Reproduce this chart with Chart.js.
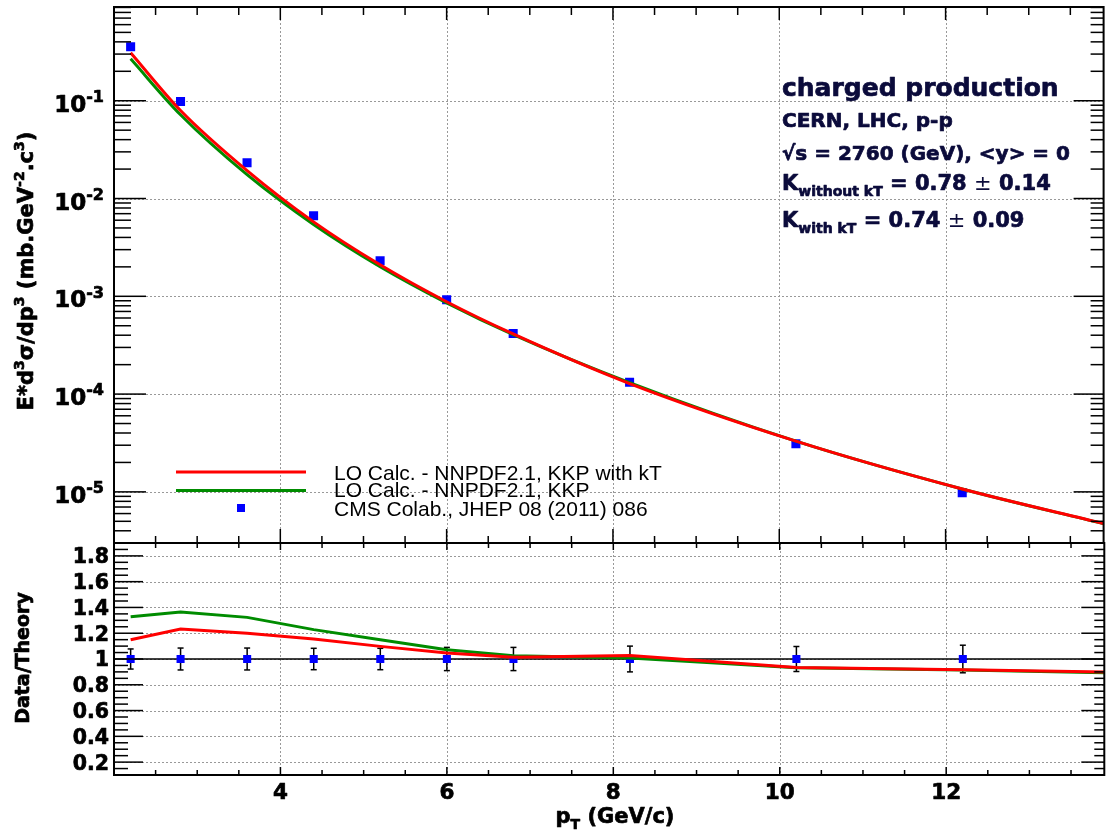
<!DOCTYPE html>
<html>
<head>
<meta charset="utf-8">
<script src="https://cdn.jsdelivr.net/npm/chart.js@4.4.1/dist/chart.umd.min.js"></script>
<style>
  body { margin: 0; background: #fff; }
  #wrap { position: relative; width: 1110px; height: 834px; }
  canvas { position: absolute; left: 0; top: 0; }
</style>
</head>
<body>
<div id="wrap">
  <canvas id="spectrum" width="1110" height="834"></canvas>
  <canvas id="ratio" width="1110" height="834"></canvas>
</div>
<script>
// CMS data points
const ptData = [2.2, 2.8, 3.6, 4.4, 5.2, 6.0, 6.8, 8.2, 10.2, 12.2]
const cmsData = [0.356, 0.098, 0.0232, 0.00667, 0.00231, 9.2e-4, 4.17e-4, 1.32e-4, 3.1e-5, 9.8e-6]
const ratioData = [1, 1, 1, 1, 1, 1, 1, 1, 1, 1]
const ratioErr = [0.078, 0.085, 0.085, 0.083, 0.083, 0.09, 0.09, 0.1, 0.097, 0.107]

// LO calculations
const ptTheory = [2.2, 2.8, 3.6, 4.4, 5.2, 6.0, 6.8, 8.2, 10.2, 12.2, 13.9]
const loWithKT = [0.31, 0.0795, 0.0193, 0.00577, 0.0021, 8.8e-4, 4.12e-4, 1.28e-4, 3.3e-5, 1.07e-5, 4.75e-6]
const loNoKT = [0.268, 0.0718, 0.01754, 0.00543, 0.00201, 8.58e-4, 4.06e-4, 1.31e-4, 3.3e-5, 1.07e-5, 4.72e-6]
const ratioWithKT = [1.15, 1.233, 1.2, 1.155, 1.098, 1.047, 1.013, 1.028, 0.935, 0.917, 0.899]
const ratioNoKT = [1.328, 1.365, 1.323, 1.228, 1.15, 1.072, 1.026, 1.008, 0.932, 0.914, 0.894]

// axes
const X_MIN = 2.0, X_MAX = 13.9
const xLabels = [4, 6, 8, 10, 12]
const Y_MIN = 3.0e-6, Y_MAX = 0.909
const decades = [-5, -4, -3, -2, -1]
const R_MIN = 0.1, R_MAX = 1.9
const ratioLabels = [0.2, 0.4, 0.6, 0.8, 1, 1.2, 1.4, 1.6, 1.8]

const RED = '#ff0000', GREEN = '#008c00', BLUE = '#0000ff', NAVY = '#0b0b3b'
const BOLD = '"DejaVu Sans", sans-serif', REG = '"Liberation Sans", Arial, sans-serif'

function rich(ctx, parts, x, y, size, o = {}) {
  const fam = o.family || BOLD, weight = o.weight || 'bold'
  const fontOf = m => `${m === 'reg' ? 'normal' : weight} ${m === 'sup' || m === 'sub' ? Math.round(size * 0.68) : size}px ${fam}`
  ctx.save()
  ctx.translate(x, y)
  if (o.rotate) ctx.rotate(o.rotate)
  ctx.fillStyle = ctx.strokeStyle = o.color || '#000'
  ctx.lineWidth = 0.7
  ctx.lineJoin = 'round'
  ctx.textBaseline = 'alphabetic'
  ctx.textAlign = 'left'
  let w = 0
  for (const [t, m] of parts) { ctx.font = fontOf(m); w += ctx.measureText(t).width }
  let cx = o.align === 'right' ? -w : o.align === 'center' ? -w / 2 : 0
  for (const [t, m] of parts) {
    ctx.font = fontOf(m)
    const dy = m === 'sup' ? -size * 0.42 : m === 'sub' ? size * 0.3 : 0
    ctx.fillText(t, cx, dy)
    // thicken bold strokes a little, ROOT's bold is heavier
    if (weight === 'bold' && m !== 'reg') ctx.strokeText(t, cx, dy)
    cx += ctx.measureText(t).width
  }
  ctx.restore()
}

function seg(ctx, x1, y1, x2, y2) {
  ctx.beginPath(); ctx.moveTo(x1, y1); ctx.lineTo(x2, y2); ctx.stroke()
}

// y tick lists: {v, major}
const logTicks = () => {
  const out = []
  for (let e = -6; e <= 0; e++) for (let m = 1; m <= 9; m++) {
    const v = m * Math.pow(10, e)
    if (v > Y_MIN && v < Y_MAX) out.push({v, major: m === 1})
  }
  return out
}
const ratioTicks = () => {
  const out = []
  for (let k = 3; k <= 37; k++) out.push({v: k * 0.05, major: k % 4 === 0})
  return out
}

// ROOT-like frame: dotted grid, inward ticks on all sides
const rootFrame = {
  id: 'rootFrame',
  beforeDatasetsDraw(chart, args, o) {
    const {ctx, chartArea: a, scales: {x, y}} = chart
    ctx.save()
    ctx.strokeStyle = '#999'
    ctx.lineWidth = 1
    ctx.setLineDash([2, 2])
    xLabels.forEach(v => { const px = Math.round(x.getPixelForValue(v)) + 0.5; seg(ctx, px, a.top, px, a.bottom) })
    o.gridY.forEach(v => { const py = Math.round(y.getPixelForValue(v)) + 0.5; seg(ctx, a.left, py, a.right, py) })
    ctx.restore()
  },
  afterDraw(chart, args, o) {
    const {ctx, chartArea: a, scales: {x, y}} = chart
    ctx.save()
    ctx.strokeStyle = '#000'
    ctx.lineWidth = 1.5
    for (let k = Math.ceil(X_MIN * 2); k <= Math.floor(X_MAX * 2); k++) {
      const px = x.getPixelForValue(k / 2), major = k % 4 === 0
      seg(ctx, px, a.bottom, px, a.bottom - (major ? o.xb[0] : o.xb[1]))
      seg(ctx, px, a.top, px, a.top + (major ? o.xt[0] : o.xt[1]))
    }
    o.yTicks().forEach(({v, major}) => {
      const py = y.getPixelForValue(v)
      seg(ctx, a.left, py, a.left + (major ? o.yl[0] : o.yl[1]), py)
      seg(ctx, a.right, py, a.right - (major ? o.yr[0] : o.yr[1]), py)
    })
    ctx.lineWidth = 2
    ctx.strokeRect(a.left, a.top, a.right - a.left, a.bottom - a.top)
    ctx.restore()
  }
}

const spectrumText = {
  id: 'spectrumText',
  afterDraw(chart) {
    const {ctx, scales: {y}} = chart
    decades.forEach(e => {
      const py = y.getPixelForValue(Math.pow(10, e))
      rich(ctx, [['10'], [String(e), 'sup']], 104, py + 11, 23, {align: 'right'})
    })
    rich(ctx, [['E*d'], ['3', 'sup'], ['σ/dp'], ['3', 'sup'], [' (mb.GeV'], ['-2', 'sup'], ['.c'], ['3', 'sup'], [')']],
      33, 271, 21, {align: 'center', rotate: -Math.PI / 2})

    // legend
    const ds = chart.data.datasets
    ctx.save()
    ctx.lineWidth = 3
    ctx.strokeStyle = RED; seg(ctx, 176, 472, 306, 472)
    ctx.strokeStyle = GREEN; seg(ctx, 176, 490.5, 306, 490.5)
    ctx.fillStyle = BLUE; ctx.fillRect(237, 504, 8, 8)
    ctx.restore()
    ;[479.5, 497, 515.5].forEach((by, i) => rich(ctx, [[ds[i].label]], 334, by, 21, {family: REG, weight: 'normal'}))

    // info box
    const info = {color: NAVY}
    rich(ctx, [['charged production']], 782, 96, 25, info)
    rich(ctx, [['CERN, LHC, p-p']], 782, 127, 20, info)
    rich(ctx, [['√s = 2760 (GeV), <y> = 0']], 782, 160, 20, info)
    rich(ctx, [['K'], ['without kT', 'sub'], [' = 0.78 '], ['±', 'reg'], [' 0.14']], 782, 190, 21, info)
    rich(ctx, [['K'], ['with kT', 'sub'], [' = 0.74 '], ['±', 'reg'], [' 0.09']], 782, 227, 21, info)
  }
}

const ratioText = {
  id: 'ratioText',
  beforeDatasetsDraw(chart) {
    const {ctx, scales: {x, y}} = chart
    ctx.save()
    ctx.strokeStyle = '#000'
    ctx.lineWidth = 1.5
    ptData.forEach((p, i) => {
      const px = x.getPixelForValue(p)
      const y1 = y.getPixelForValue(ratioData[i] + ratioErr[i]), y2 = y.getPixelForValue(ratioData[i] - ratioErr[i])
      seg(ctx, px, y1, px, y2)
      seg(ctx, px - 3, y1, px + 3, y1)
      seg(ctx, px - 3, y2, px + 3, y2)
    })
    ctx.restore()
  },
  afterDraw(chart) {
    const {ctx, scales: {x, y}} = chart
    ratioLabels.forEach(v => rich(ctx, [[String(v)]], 109, y.getPixelForValue(v) + 7.4, 20.5, {align: 'right'}))
    xLabels.forEach(v => rich(ctx, [[String(v)]], x.getPixelForValue(v), 799, 21.5, {align: 'center'}))
    rich(ctx, [['p'], ['T', 'sub'], [' (GeV/c)']], 615, 823, 21, {align: 'center'})
    rich(ctx, [['Data/Theory']], 29, 658, 19, {align: 'center', rotate: -Math.PI / 2})
  }
}

const pts = (xs, ys) => xs.map((x, i) => ({x, y: ys[i]}))

const scales = (yType, yMin, yMax, xHeight) => ({
  x: {type: 'linear', min: X_MIN, max: X_MAX, ticks: {display: false}, grid: {display: false}, border: {display: false},
      afterFit: s => { s.height = xHeight }},
  y: {type: yType, min: yMin, max: yMax, ticks: {display: false}, grid: {display: false}, border: {display: false},
      afterFit: s => { s.width = 114 }}
})

new Chart(document.getElementById('spectrum'), {
  type: 'line',
  data: {
    datasets: [
      {label: 'LO Calc. - NNPDF2.1, KKP with kT', data: pts(ptTheory, loWithKT), borderColor: RED, borderWidth: 3,
       pointRadius: 0, cubicInterpolationMode: 'monotone', order: 0},
      {label: 'LO Calc. - NNPDF2.1, KKP', data: pts(ptTheory, loNoKT), borderColor: GREEN, borderWidth: 3,
       pointRadius: 0, cubicInterpolationMode: 'monotone', order: 1},
      {label: 'CMS Colab., JHEP 08 (2011) 086', data: pts(ptData, cmsData), showLine: false, pointStyle: 'rect',
       pointRadius: 6.4, backgroundColor: BLUE, borderWidth: 0, order: 2}
    ]
  },
  options: {
    responsive: false,
    animation: false,
    layout: {padding: {top: 7, bottom: 291, left: 0, right: 2}},
    scales: scales('logarithmic', Y_MIN, Y_MAX, 0),
    plugins: {
      legend: {display: false},
      tooltip: {enabled: false},
      rootFrame: {gridY: decades.map(e => Math.pow(10, e)), yTicks: logTicks, xb: [14, 7], xt: [13, 8], yl: [32, 17], yr: [30, 13]}
    }
  },
  plugins: [rootFrame, spectrumText]
})

new Chart(document.getElementById('ratio'), {
  type: 'line',
  data: {
    datasets: [
      {label: 'with kT', data: pts(ptTheory, ratioWithKT), borderColor: RED, borderWidth: 3, pointRadius: 0, tension: 0, order: 0},
      {label: 'without kT', data: pts(ptTheory, ratioNoKT), borderColor: GREEN, borderWidth: 3, pointRadius: 0, tension: 0, order: 1},
      {label: 'CMS', data: pts(ptData, ratioData), showLine: false, pointStyle: 'rect', pointRadius: 5.7,
       backgroundColor: BLUE, borderWidth: 0, order: 2},
      {label: 'unity', data: pts([X_MIN, X_MAX], [1, 1]), borderColor: '#000', borderWidth: 1.5, pointRadius: 0, order: 3}
    ]
  },
  options: {
    responsive: false,
    animation: false,
    layout: {padding: {top: 543, bottom: 0, left: 0, right: 2}},
    scales: scales('linear', R_MIN, R_MAX, 59),
    plugins: {
      legend: {display: false},
      tooltip: {enabled: false},
      rootFrame: {gridY: ratioLabels, yTicks: ratioTicks, xb: [8, 5], xt: [7, 5], yl: [29, 14], yr: [23, 10]}
    }
  },
  plugins: [rootFrame, ratioText]
})
</script>
</body>
</html>
